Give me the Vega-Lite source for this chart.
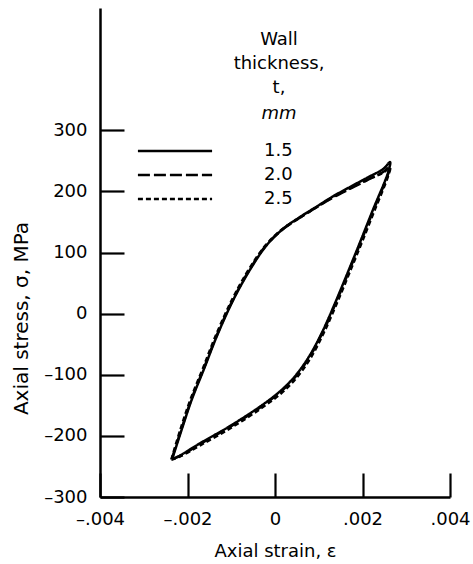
{
  "$schema": "https://vega.github.io/schema/vega-lite/v6.json",
  "width": 350,
  "height": 489,
  "autosize": {"type": "none"},
  "padding": {"left": 100, "top": 8, "right": 23, "bottom": 67},
  "background": "white",
  "config": {
    "font": "DejaVu Sans",
    "view": {"stroke": null},
    "axis": {"grid": false, "domainColor": "black", "tickColor": "black", "labelColor": "black", "titleColor": "black", "labelFont": "DejaVu Sans", "titleFont": "DejaVu Sans", "labelFontSize": 18, "titleFontSize": 18, "titleFontWeight": "normal", "domainWidth": 2.5, "tickWidth": 2.2, "tickSize": -24},
    "legend": {"labelFont": "DejaVu Sans", "labelFontSize": 18, "labelColor": "black"},
    "title": {"font": "DejaVu Sans", "color": "black"}
  },
  "title": {
    "text": ["Wall", "thickness,", "t,"],
    "subtitle": "mm",
    "anchor": "middle",
    "frame": "group",
    "orient": "top",
    "dx": 4,
    "offset": -115,
    "fontSize": 18,
    "fontWeight": "normal",
    "lineHeight": 24,
    "subtitleFont": "DejaVu Sans",
    "subtitleFontSize": 18,
    "subtitleFontStyle": "italic",
    "subtitleColor": "black",
    "subtitlePadding": 8
  },
  "data": {"values": [
    {"t":"1.5","i":0,"strain":-0.00235,"stress":-238},
    {"t":"1.5","i":1,"strain":-0.00213,"stress":-189},
    {"t":"1.5","i":2,"strain":-0.00190,"stress":-140},
    {"t":"1.5","i":3,"strain":-0.00162,"stress":-90},
    {"t":"1.5","i":4,"strain":-0.00133,"stress":-37},
    {"t":"1.5","i":5,"strain":-0.00095,"stress":23},
    {"t":"1.5","i":6,"strain":-0.00057,"stress":72},
    {"t":"1.5","i":7,"strain":-0.00019,"stress":112},
    {"t":"1.5","i":8,"strain":0.00019,"stress":139},
    {"t":"1.5","i":9,"strain":0.00057,"stress":158},
    {"t":"1.5","i":10,"strain":0.00095,"stress":175},
    {"t":"1.5","i":11,"strain":0.00133,"stress":192},
    {"t":"1.5","i":12,"strain":0.00171,"stress":207},
    {"t":"1.5","i":13,"strain":0.00210,"stress":222},
    {"t":"1.5","i":14,"strain":0.00248,"stress":237},
    {"t":"1.5","i":15,"strain":0.00263,"stress":248},
    {"t":"1.5","i":16,"strain":0.00258,"stress":230},
    {"t":"1.5","i":17,"strain":0.00224,"stress":170},
    {"t":"1.5","i":18,"strain":0.00194,"stress":116},
    {"t":"1.5","i":19,"strain":0.00165,"stress":65},
    {"t":"1.5","i":20,"strain":0.00136,"stress":15},
    {"t":"1.5","i":21,"strain":0.00108,"stress":-30},
    {"t":"1.5","i":22,"strain":0.00078,"stress":-70},
    {"t":"1.5","i":23,"strain":0.00045,"stress":-103},
    {"t":"1.5","i":24,"strain":0.00010,"stress":-128},
    {"t":"1.5","i":25,"strain":-0.00034,"stress":-152},
    {"t":"1.5","i":26,"strain":-0.00103,"stress":-184},
    {"t":"1.5","i":27,"strain":-0.00171,"stress":-212},
    {"t":"1.5","i":28,"strain":-0.00217,"stress":-232},
    {"t":"1.5","i":29,"strain":-0.00235,"stress":-238},
    {"t":"2.0","i":0,"strain":-0.00236,"stress":-238},
    {"t":"2.0","i":1,"strain":-0.00214,"stress":-189},
    {"t":"2.0","i":2,"strain":-0.00191,"stress":-140},
    {"t":"2.0","i":3,"strain":-0.00163,"stress":-90},
    {"t":"2.0","i":4,"strain":-0.00134,"stress":-37},
    {"t":"2.0","i":5,"strain":-0.00096,"stress":23},
    {"t":"2.0","i":6,"strain":-0.00058,"stress":72},
    {"t":"2.0","i":7,"strain":-0.00020,"stress":112},
    {"t":"2.0","i":8,"strain":0.00018,"stress":138},
    {"t":"2.0","i":9,"strain":0.00057,"stress":157},
    {"t":"2.0","i":10,"strain":0.00095,"stress":174},
    {"t":"2.0","i":11,"strain":0.00133,"stress":190},
    {"t":"2.0","i":12,"strain":0.00171,"stress":204},
    {"t":"2.0","i":13,"strain":0.00210,"stress":218},
    {"t":"2.0","i":14,"strain":0.00248,"stress":232},
    {"t":"2.0","i":15,"strain":0.00263,"stress":241},
    {"t":"2.0","i":16,"strain":0.00258,"stress":227},
    {"t":"2.0","i":17,"strain":0.00225,"stress":169},
    {"t":"2.0","i":18,"strain":0.00195,"stress":115},
    {"t":"2.0","i":19,"strain":0.00166,"stress":64},
    {"t":"2.0","i":20,"strain":0.00137,"stress":14},
    {"t":"2.0","i":21,"strain":0.00109,"stress":-31},
    {"t":"2.0","i":22,"strain":0.00079,"stress":-71},
    {"t":"2.0","i":23,"strain":0.00046,"stress":-104},
    {"t":"2.0","i":24,"strain":0.00011,"stress":-129},
    {"t":"2.0","i":25,"strain":-0.00033,"stress":-153},
    {"t":"2.0","i":26,"strain":-0.00102,"stress":-185},
    {"t":"2.0","i":27,"strain":-0.00170,"stress":-213},
    {"t":"2.0","i":28,"strain":-0.00217,"stress":-233},
    {"t":"2.0","i":29,"strain":-0.00236,"stress":-238},
    {"t":"2.5","i":0,"strain":-0.00237,"stress":-239},
    {"t":"2.5","i":1,"strain":-0.00216,"stress":-189},
    {"t":"2.5","i":2,"strain":-0.00193,"stress":-140},
    {"t":"2.5","i":3,"strain":-0.00165,"stress":-90},
    {"t":"2.5","i":4,"strain":-0.00136,"stress":-37},
    {"t":"2.5","i":5,"strain":-0.00098,"stress":23},
    {"t":"2.5","i":6,"strain":-0.00060,"stress":72},
    {"t":"2.5","i":7,"strain":-0.00021,"stress":112},
    {"t":"2.5","i":8,"strain":0.00018,"stress":139},
    {"t":"2.5","i":9,"strain":0.00057,"stress":157},
    {"t":"2.5","i":10,"strain":0.00095,"stress":174},
    {"t":"2.5","i":11,"strain":0.00133,"stress":191},
    {"t":"2.5","i":12,"strain":0.00171,"stress":205},
    {"t":"2.5","i":13,"strain":0.00210,"stress":219},
    {"t":"2.5","i":14,"strain":0.00248,"stress":231},
    {"t":"2.5","i":15,"strain":0.00263,"stress":239},
    {"t":"2.5","i":16,"strain":0.00259,"stress":226},
    {"t":"2.5","i":17,"strain":0.00227,"stress":168},
    {"t":"2.5","i":18,"strain":0.00197,"stress":114},
    {"t":"2.5","i":19,"strain":0.00168,"stress":63},
    {"t":"2.5","i":20,"strain":0.00139,"stress":13},
    {"t":"2.5","i":21,"strain":0.00111,"stress":-32},
    {"t":"2.5","i":22,"strain":0.00081,"stress":-73},
    {"t":"2.5","i":23,"strain":0.00048,"stress":-106},
    {"t":"2.5","i":24,"strain":0.00013,"stress":-131},
    {"t":"2.5","i":25,"strain":-0.00032,"stress":-155},
    {"t":"2.5","i":26,"strain":-0.00101,"stress":-187},
    {"t":"2.5","i":27,"strain":-0.00170,"stress":-215},
    {"t":"2.5","i":28,"strain":-0.00218,"stress":-234},
    {"t":"2.5","i":29,"strain":-0.00237,"stress":-239}
  ]},
  "mark": {"type": "line", "color": "black", "strokeWidth": 2.5, "strokeJoin": "round", "interpolate": "catmull-rom"},
  "encoding": {
    "x": {
      "field": "strain", "type": "quantitative",
      "scale": {"domain": [-0.004, 0.004], "nice": false, "zero": false},
      "axis": {
        "values": [-0.004, -0.002, 0, 0.002, 0.004],
        "labelExpr": "datum.value == 0 ? '0' : replace(replace(format(datum.value, '.3f'), '0.', '.'), '\u2212', '\u2013')",
        "labelPadding": 37,
        "labelFlush": false,
        "title": "Axial strain, \u03b5",
        "titleY": 59,
        "titleBaseline": "alphabetic"
      }
    },
    "y": {
      "field": "stress", "type": "quantitative",
      "scale": {"domain": [-300, 500], "nice": false, "zero": false},
      "axis": {
        "values": [-300, -200, -100, 0, 100, 200, 300],
        "labelExpr": "replace(datum.label, '\u2212', '\u2013')",
        "labelPadding": 37,
        "title": "Axial stress, \u03c3, MPa",
        "titleFontSize": 20,
        "titleX": -73,
        "titleY": 310,
        "titleBaseline": "alphabetic"
      }
    },
    "strokeDash": {
      "field": "t", "type": "nominal",
      "scale": {"domain": ["1.5", "2.0", "2.5"], "range": [[1, 0], [12, 4], [5, 3]]},
      "legend": {
        "title": null,
        "orient": "none",
        "legendX": 66,
        "legendY": 134,
        "symbolType": "M-10,0H10",
        "symbolSize": 55,
        "symbolStrokeWidth": 2.5,
        "symbolStrokeColor": "black",
        "labelOffset": 80,
        "rowPadding": 6,
        "padding": 0
      }
    },
    "order": {"field": "i", "type": "quantitative"}
  }
}
